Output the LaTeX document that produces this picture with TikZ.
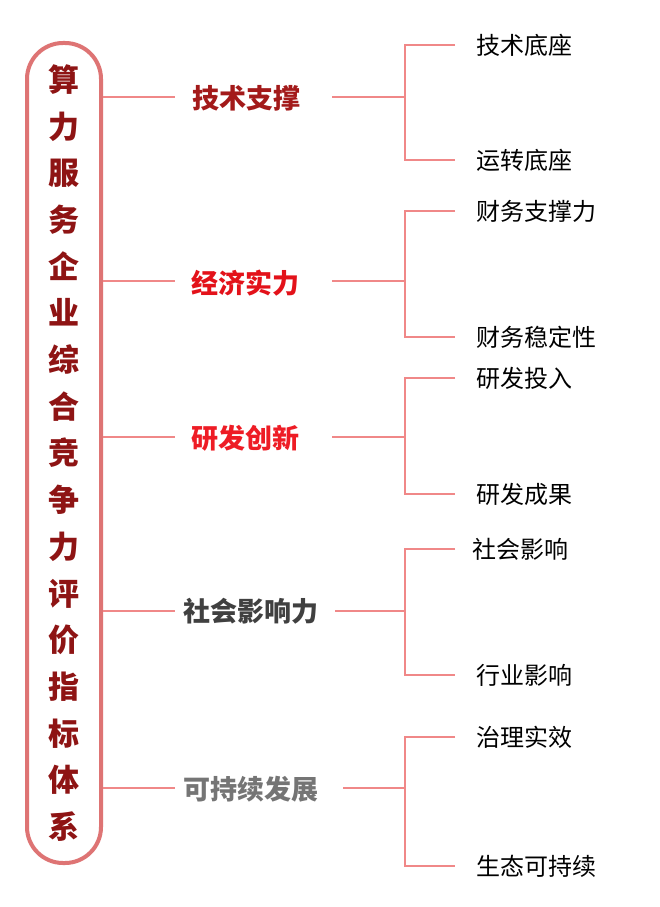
\documentclass[tikz,border=0pt]{standalone}
\usepackage{fontspec}
\setmainfont{Noto Sans CJK SC}
\newfontfamily\cjk{Noto Sans CJK SC}
\newfontfamily\cjkheavy{Noto Sans CJK SC Black}
\definecolor{rootred}{HTML}{8E1414}
\definecolor{boxline}{HTML}{DE7474}
\definecolor{conncol}{HTML}{F08888}
\definecolor{c1}{HTML}{A31A1A}
\definecolor{c2}{HTML}{E3121A}
\definecolor{c3}{HTML}{EE1C25}
\definecolor{c4}{HTML}{404040}
\definecolor{c5}{HTML}{757575}
\tikzset{
  rootbox/.style={draw=boxline, line width=4pt, fill=white, rounded corners=36pt,
    minimum width=74pt, minimum height=820pt, inner sep=0pt, align=center,
    text=rootred, font=\cjkheavy\fontsize{31}{46.7}\selectfont},
  lvone/.style={inner sep=0pt, font=\cjkheavy\fontsize{27}{30}\selectfont},
  leaf/.style={anchor=west, inner sep=0pt, font=\cjk\fontsize{24}{28}\selectfont, text=black},
  conn/.style={draw=conncol, line width=1.3pt},
}
\begin{document}
\begin{tikzpicture}[x=1pt, y=-1pt]
\useasboundingbox (0,0) rectangle (660,907);
\fill[white] (0,0) rectangle (660,907);
% root
\node[rootbox] (root) at (64,453) {算\\力\\服\\务\\企\\业\\综\\合\\竞\\争\\力\\评\\价\\指\\标\\体\\系};
% level one
\node[lvone, text=c1] (t1) at (246,98) {技术支撑};
\node[lvone, text=c2] (t2) at (245,283) {经济实力};
\node[lvone, text=c3] (t3) at (245,438) {研发创新};
\node[lvone, text=c4] (t4) at (251,611) {社会影响力};
\node[lvone, text=c5] (t5) at (251,789) {可持续发展};
% line ends
\coordinate (l1) at (175,97);  \coordinate (r1) at (332,97);  \coordinate (j1) at (405,97);
\coordinate (l2) at (175,281); \coordinate (r2) at (332,281); \coordinate (j2) at (405,281);
\coordinate (l3) at (175,437); \coordinate (r3) at (332,437); \coordinate (j3) at (405,437);
\coordinate (l4) at (175,611); \coordinate (r4) at (335,611); \coordinate (j4) at (405,611);
\coordinate (l5) at (175,788); \coordinate (r5) at (343,788); \coordinate (j5) at (405,788);
% leaves
\node[leaf] (a1) at (476,45)  {技术底座};
\node[leaf] (a2) at (476,160) {运转底座};
\node[leaf] (b1) at (476,211) {财务支撑力};
\node[leaf] (b2) at (476,337) {财务稳定性};
\node[leaf] (c1n) at (476,378) {研发投入};
\node[leaf] (c2n) at (476,494) {研发成果};
\node[leaf] (d1) at (472,549) {社会影响};
\node[leaf] (d2) at (476,675) {行业影响};
\node[leaf] (e1) at (476,737) {治理实效};
\node[leaf] (e2) at (476,866) {生态可持续};
% connectors root -> level one
\foreach \i in {1,...,5} {
  \draw[conn] (root.east |- l\i) -- (l\i);
  \draw[conn] (r\i) -- (j\i);
}
% brackets
\draw[conn] (a1.west) ++(-21,0) -- (j1 |- a1.west) -- (j1 |- a2.west) -- ++(50,0);
\draw[conn] (b1.west) ++(-21,0) -- (j2 |- b1.west) -- (j2 |- b2.west) -- ++(50,0);
\draw[conn] (c1n.west) ++(-21,0) -- (j3 |- c1n.west) -- (j3 |- c2n.west) -- ++(50,0);
\draw[conn] (d1.west) ++(-17,0) -- (j4 |- d1.west) -- (j4 |- d2.west) -- ++(50,0);
\draw[conn] (e1.west) ++(-21,0) -- (j5 |- e1.west) -- (j5 |- e2.west) -- ++(50,0);
\end{tikzpicture}
\end{document}
